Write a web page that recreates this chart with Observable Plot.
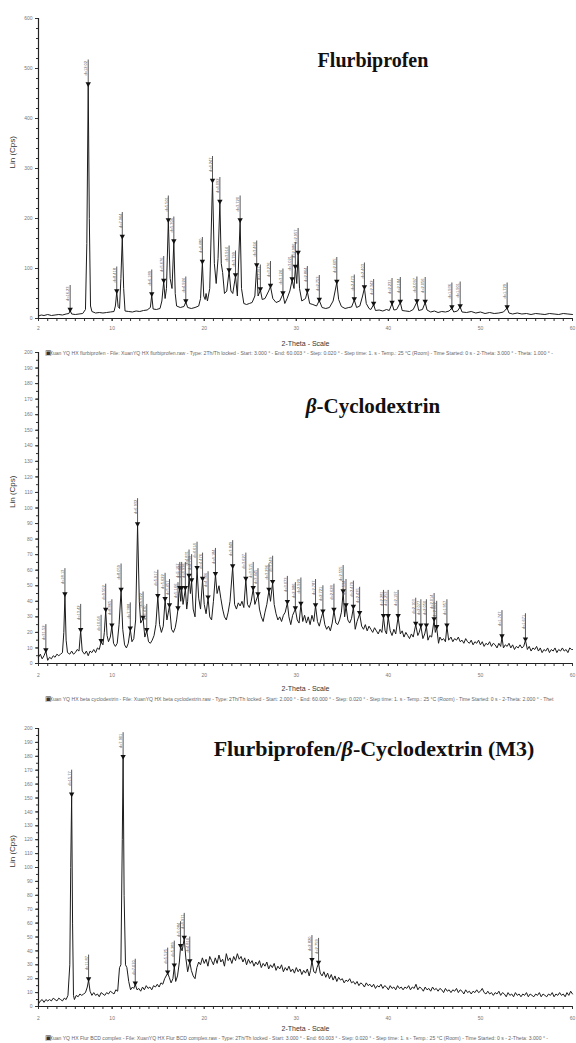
<!DOCTYPE html>
<html><head><meta charset="utf-8">
<script src="https://cdn.jsdelivr.net/npm/d3@7"></script>
<script src="https://cdn.jsdelivr.net/npm/@observablehq/plot@0.6"></script>
<style>
body{margin:0;background:#fff;}
#wrap{position:relative;width:576px;height:1043px;overflow:hidden;background:#fff;}
.panel{position:absolute;left:0;}
.title{position:absolute;font-family:"Liberation Serif","Times New Roman",serif;font-weight:bold;color:#111;white-space:nowrap;transform:translate(-50%,-50%);}
</style></head><body><div id="wrap"></div>
<script>
// ---- x axis ticks (2-Theta) ----
const xMajor = [2, 10, 20, 30, 40, 50, 60];
// ---- Panel 1: Flurbiprofen ----
const fluTrace = [[2,5],[2.3,7],[2.6,6],[3,8],[3.4,6],[3.8,7],[4.2,8],[4.6,7],[5.0,9],[5.3,10],[5.44,16],[5.6,9],[6.0,8],[6.4,9],[6.8,10],[7.1,18],[7.25,150],[7.4,467],[7.52,200],[7.65,25],[7.8,14],[8.2,11],[8.6,12],[9.0,11],[9.4,12],[9.8,13],[10.2,14],[10.35,25],[10.5,53],[10.65,24],[10.8,20],[10.95,80],[11.1,162],[11.25,60],[11.4,15],[11.8,14],[12.2,13],[12.6,15],[13.0,14],[13.4,16],[13.8,17],[14.15,22],[14.3,47],[14.45,19],[14.8,18],[15.2,20],[15.4,35],[15.6,74],[15.75,40],[15.9,60],[16.1,195],[16.3,80],[16.5,60],[16.7,153],[16.85,50],[17.0,25],[17.4,22],[17.8,24],[18.0,33],[18.2,22],[18.6,20],[19.0,22],[19.4,25],[19.6,40],[19.8,112],[19.95,45],[20.1,38],[20.2,50],[20.35,35],[20.6,60],[20.9,274],[21.1,110],[21.3,70],[21.5,120],[21.7,232],[21.85,110],[22.0,92],[22.2,50],[22.45,55],[22.7,95],[22.9,55],[23.1,50],[23.4,85],[23.6,45],[23.9,195],[24.05,60],[24.3,30],[24.6,28],[24.9,30],[25.2,32],[25.5,45],[25.7,105],[25.85,45],[26.1,57],[26.3,38],[26.6,40],[27.0,55],[27.2,64],[27.45,40],[27.8,32],[28.2,35],[28.55,49],[28.75,30],[29.0,40],[29.3,55],[29.55,77],[29.75,60],[29.9,102],[30.05,70],[30.2,130],[30.35,60],[30.6,35],[31.0,40],[31.2,54],[31.45,30],[31.8,28],[32.2,25],[32.5,36],[32.8,22],[33.2,20],[33.6,22],[34.0,35],[34.4,72],[34.6,38],[34.9,24],[35.3,20],[35.7,22],[36.0,23],[36.3,37],[36.55,22],[36.9,25],[37.2,45],[37.4,61],[37.6,30],[37.9,20],[38.1,18],[38.4,28],[38.6,16],[39.0,17],[39.4,15],[39.8,18],[40.1,16],[40.4,30],[40.6,17],[40.9,18],[41.3,32],[41.5,16],[41.9,15],[42.3,14],[42.7,18],[43.1,33],[43.3,16],[43.7,18],[44.0,32],[44.2,17],[44.6,13],[45.0,15],[45.4,12],[45.8,14],[46.2,13],[46.6,15],[46.9,21],[47.1,13],[47.5,15],[47.8,23],[48.0,13],[48.5,12],[49.0,14],[49.5,11],[50.0,13],[50.5,10],[51.0,12],[51.5,10],[52.0,11],[52.5,13],[52.9,21],[53.1,11],[53.5,9],[54.0,11],[54.5,9],[55.0,10],[55.5,8],[56.0,10],[56.5,9],[57.0,8],[57.5,10],[58.0,9],[58.5,8],[59.0,10],[59.5,9],[60.0,8]];
const fluPeaks = [[5.44,16,"d=16.23"],[7.4,467,"d=12.02"],[10.5,53,"d=8.418"],[11.1,162,"d=7.964"],[14.3,47,"d=6.189"],[15.6,74,"d=5.676"],[16.1,195,"d=5.501"],[16.7,153,"d=5.304"],[18.0,33,"d=4.924"],[19.8,112,"d=4.480"],[20.9,274,"d=4.247"],[21.7,232,"d=4.092"],[22.7,95,"d=3.914"],[23.4,85,"d=3.799"],[23.9,195,"d=3.720"],[25.7,105,"d=3.464"],[26.1,57,"d=3.411"],[27.2,64,"d=3.276"],[28.55,49,"d=3.124"],[29.55,77,"d=3.021"],[29.9,102,"d=2.986"],[30.2,130,"d=2.957"],[31.2,54,"d=2.864"],[32.5,36,"d=2.753"],[34.4,72,"d=2.605"],[36.3,37,"d=2.473"],[37.4,61,"d=2.403"],[38.4,28,"d=2.342"],[40.4,30,"d=2.231"],[41.3,32,"d=2.184"],[43.1,33,"d=2.097"],[44.0,32,"d=2.056"],[46.9,21,"d=1.936"],[47.8,23,"d=1.901"],[52.9,21,"d=1.729"]];
const fluYTicks = [0, 100, 200, 300, 400, 500, 600];
// ---- Panel 2: beta-Cyclodextrin ----
const bcdTrace = [[2.0,4],[2.2,6],[2.4,3],[2.6,5],[2.8,8],[3.0,2],[3.2,4],[3.4,3],[3.6,5],[3.8,4],[4.0,6],[4.2,5],[4.4,6],[4.6,7],[4.75,20],[4.87,44],[5.0,15],[5.15,7],[5.4,6],[5.6,8],[5.8,6],[6.0,7],[6.2,9],[6.4,8],[6.58,21],[6.75,8],[7.0,6],[7.2,8],[7.4,5],[7.6,8],[7.8,7],[8.0,9],[8.2,7],[8.4,10],[8.6,9],[8.8,14],[9.0,12],[9.15,20],[9.3,34],[9.45,18],[9.6,14],[9.8,17],[9.97,24],[10.15,13],[10.35,11],[10.55,13],[10.75,25],[10.97,47],[11.15,22],[11.35,12],[11.55,10],[11.75,13],[11.97,22],[12.15,14],[12.35,16],[12.55,28],[12.76,89],[12.95,40],[13.1,26],[13.36,29],[13.55,17],[13.76,21],[13.95,14],[14.15,13],[14.35,15],[14.55,18],[14.75,25],[14.96,43],[15.15,25],[15.35,20],[15.55,24],[15.75,41],[15.95,28],[16.23,37],[16.45,22],[16.65,20],[16.85,23],[17.0,28],[17.15,35],[17.25,45],[17.35,48],[17.45,40],[17.55,48],[17.7,38],[17.95,48],[18.1,35],[18.2,40],[18.35,56],[18.5,45],[18.63,53],[18.8,35],[19.0,30],[19.22,61],[19.4,42],[19.6,35],[19.82,54],[20.0,38],[20.2,32],[20.42,42],[20.6,30],[20.8,28],[21.0,40],[21.22,57],[21.4,45],[21.6,50],[21.8,42],[22.0,35],[22.2,30],[22.4,28],[22.6,33],[22.8,40],[23.09,62],[23.3,38],[23.5,35],[23.7,39],[23.9,37],[24.1,40],[24.3,36],[24.52,54],[24.7,38],[24.9,36],[25.1,40],[25.32,48],[25.5,38],[25.84,44],[26.0,35],[26.2,30],[26.4,27],[26.6,33],[26.8,38],[27.03,47],[27.2,40],[27.43,52],[27.6,38],[27.8,32],[28.0,28],[28.2,30],[28.4,27],[28.6,31],[28.8,33],[29.03,39],[29.2,30],[29.4,25],[29.6,31],[29.9,35],[30.1,28],[30.3,26],[30.5,38],[30.7,27],[30.9,31],[31.1,26],[31.3,30],[31.5,25],[31.7,31],[31.9,27],[32.09,37],[32.3,27],[32.5,24],[32.7,29],[32.89,33],[33.1,25],[33.3,22],[33.5,24],[33.7,21],[33.9,26],[34.09,34],[34.3,26],[34.5,25],[34.7,28],[34.9,33],[35.09,46],[35.25,30],[35.4,37],[35.6,28],[35.8,26],[36.0,29],[36.2,36],[36.4,22],[36.6,27],[36.88,32],[37.1,24],[37.3,22],[37.5,25],[37.7,21],[37.9,24],[38.1,22],[38.3,20],[38.5,23],[38.7,21],[38.9,19],[39.1,22],[39.3,20],[39.47,30],[39.65,21],[39.8,19],[39.98,30],[40.2,21],[40.4,18],[40.6,22],[40.8,19],[41.06,30],[41.3,19],[41.5,21],[41.7,17],[41.9,20],[42.1,18],[42.3,16],[42.5,19],[42.7,17],[42.97,25],[43.2,18],[43.35,20],[43.53,24],[43.75,16],[43.95,19],[44.13,24],[44.3,15],[44.5,18],[44.7,17],[44.97,28],[45.1,20],[45.25,23],[45.45,13],[45.6,17],[45.8,15],[46.0,16],[46.2,14],[46.36,24],[46.55,15],[46.8,17],[47.0,14],[47.2,16],[47.4,15],[47.6,17],[47.8,14],[48.0,15],[48.2,13],[48.4,16],[48.6,14],[48.8,13],[49.0,15],[49.2,12],[49.4,14],[49.6,13],[49.8,15],[50.0,12],[50.2,14],[50.4,11],[50.6,13],[50.8,12],[51.0,14],[51.2,11],[51.4,13],[51.6,12],[51.8,10],[52.0,13],[52.2,11],[52.34,17],[52.5,10],[52.7,12],[52.9,11],[53.1,13],[53.3,10],[53.5,12],[53.7,9],[53.9,11],[54.1,10],[54.3,12],[54.5,10],[54.7,11],[54.89,15],[55.1,9],[55.3,11],[55.5,8],[55.7,10],[55.9,9],[56.1,11],[56.3,8],[56.5,10],[56.7,7],[56.9,9],[57.1,8],[57.3,10],[57.5,7],[57.7,9],[57.9,8],[58.1,10],[58.3,7],[58.5,9],[58.7,8],[58.9,10],[59.1,8],[59.3,9],[59.5,7],[59.7,10],[59.9,9],[60.0,9]];
const bcdPeaks = [[2.8,8,"d=31.52"],[4.87,44,"d=18.13"],[6.58,21,"d=13.42"],[8.8,14,"d=10.04"],[9.3,34,"d=9.502"],[9.97,24,"d=8.865"],[10.97,47,"d=8.059"],[11.97,22,"d=7.388"],[12.76,89,"d=6.932"],[13.36,29,"d=6.622"],[13.76,21,"d=6.430"],[14.96,43,"d=5.917"],[15.75,41,"d=5.622"],[16.23,37,"d=5.457"],[17.15,35,"d=5.166"],[17.35,48,"d=5.107"],[17.55,48,"d=5.049"],[17.95,48,"d=4.938"],[18.35,56,"d=4.831"],[18.63,53,"d=4.759"],[19.22,61,"d=4.614"],[19.82,54,"d=4.476"],[20.42,42,"d=4.346"],[21.22,57,"d=4.184"],[23.09,62,"d=3.849"],[24.52,54,"d=3.627"],[25.32,48,"d=3.515"],[25.84,44,"d=3.445"],[27.03,47,"d=3.296"],[27.43,52,"d=3.249"],[29.03,39,"d=3.073"],[29.9,35,"d=2.986"],[30.5,38,"d=2.929"],[32.09,37,"d=2.787"],[32.89,33,"d=2.721"],[34.09,34,"d=2.628"],[35.09,46,"d=2.555"],[35.4,37,"d=2.534"],[36.2,36,"d=2.479"],[36.88,32,"d=2.435"],[39.47,30,"d=2.281"],[39.98,30,"d=2.253"],[41.06,30,"d=2.197"],[42.97,25,"d=2.103"],[43.53,24,"d=2.077"],[44.13,24,"d=2.050"],[44.97,28,"d=2.014"],[45.25,23,"d=2.002"],[46.36,24,"d=1.957"],[52.34,17,"d=1.747"],[54.89,15,"d=1.671"]];
const tenTicks = [0,10,20,30,40,50,60,70,80,90,100,110,120,130,140,150,160,170,180,190,200];
// ---- Panel 3: Flurbiprofen/beta-CD complex (M3) ----
const m3Trace = [[2.0,2],[2.2,4],[2.4,5],[2.6,3],[2.8,5],[3.0,4],[3.2,5],[3.4,4],[3.6,6],[3.8,5],[4.0,4],[4.2,6],[4.4,5],[4.6,4],[4.8,6],[5.0,5],[5.2,8],[5.4,30],[5.5,100],[5.6,152],[5.7,60],[5.8,8],[5.9,5],[6.1,8],[6.3,7],[6.5,9],[6.7,8],[6.9,9],[7.1,10],[7.3,14],[7.44,19],[7.6,11],[7.8,8],[8.0,10],[8.2,8],[8.4,9],[8.6,7],[8.8,10],[9.0,9],[9.2,8],[9.4,10],[9.6,9],[9.8,11],[10.0,10],[10.2,9],[10.4,12],[10.6,11],[10.8,28],[10.95,30],[11.1,120],[11.19,179],[11.3,80],[11.45,30],[11.6,28],[11.8,18],[12.0,12],[12.2,14],[12.35,13],[12.51,16],[12.7,12],[12.9,13],[13.1,11],[13.3,14],[13.5,12],[13.7,15],[13.9,13],[14.1,14],[14.3,12],[14.5,15],[14.7,14],[14.9,16],[15.1,14],[15.3,17],[15.5,16],[15.7,20],[16.03,24],[16.2,21],[16.4,17],[16.6,20],[16.75,29],[16.9,18],[17.1,22],[17.3,32],[17.43,43],[17.6,40],[17.83,49],[18.0,35],[18.2,25],[18.43,32],[18.6,26],[18.8,22],[19.0,20],[19.2,28],[19.4,32],[19.6,30],[19.8,35],[20.0,31],[20.2,34],[20.4,29],[20.6,36],[20.8,33],[21.0,30],[21.2,35],[21.4,31],[21.6,37],[21.8,32],[22.0,34],[22.2,29],[22.4,38],[22.6,33],[22.8,35],[23.0,31],[23.2,36],[23.4,33],[23.6,38],[23.8,34],[24.0,36],[24.2,32],[24.4,35],[24.6,30],[24.8,34],[25.0,31],[25.2,33],[25.4,29],[25.6,32],[25.8,30],[26.0,33],[26.2,28],[26.4,31],[26.6,29],[26.8,32],[27.0,27],[27.2,30],[27.4,28],[27.6,31],[27.8,26],[28.0,29],[28.2,27],[28.4,30],[28.6,25],[28.8,28],[29.0,26],[29.2,29],[29.4,25],[29.6,27],[29.8,24],[30.0,28],[30.2,25],[30.4,27],[30.6,23],[30.8,26],[31.0,24],[31.2,27],[31.4,22],[31.55,26],[31.7,33],[31.9,25],[32.1,24],[32.25,28],[32.42,31],[32.6,24],[32.8,22],[33.0,25],[33.2,21],[33.4,24],[33.6,20],[33.8,23],[34.0,19],[34.2,22],[34.4,18],[34.6,21],[34.8,19],[35.0,20],[35.2,17],[35.4,19],[35.6,18],[35.8,20],[36.0,17],[36.2,18],[36.4,16],[36.6,18],[36.8,15],[37.0,17],[37.2,16],[37.4,14],[37.6,17],[37.8,15],[38.0,16],[38.2,14],[38.4,16],[38.6,13],[38.8,15],[39.0,14],[39.2,16],[39.4,13],[39.6,15],[39.8,14],[40.0,12],[40.2,15],[40.4,13],[40.6,14],[40.8,12],[41.0,15],[41.2,13],[41.4,14],[41.6,12],[41.8,14],[42.0,13],[42.2,15],[42.4,12],[42.6,14],[42.8,13],[43.0,16],[43.2,12],[43.4,14],[43.6,13],[43.8,11],[44.0,14],[44.2,12],[44.4,13],[44.6,11],[44.8,14],[45.0,12],[45.2,13],[45.4,11],[45.6,13],[45.8,12],[46.0,10],[46.2,13],[46.4,11],[46.6,12],[46.8,10],[47.0,12],[47.2,11],[47.4,13],[47.6,10],[47.8,12],[48.0,11],[48.2,9],[48.4,12],[48.6,10],[48.8,11],[49.0,9],[49.2,11],[49.4,10],[49.6,12],[49.8,10],[50.0,11],[50.2,13],[50.4,10],[50.6,9],[50.8,11],[51.0,9],[51.2,10],[51.4,8],[51.6,10],[51.8,9],[52.0,11],[52.2,8],[52.4,10],[52.6,9],[52.8,7],[53.0,10],[53.2,8],[53.4,9],[53.6,7],[53.8,10],[54.0,8],[54.2,9],[54.4,7],[54.6,9],[54.8,8],[55.0,10],[55.2,7],[55.4,9],[55.6,8],[55.8,7],[56.0,9],[56.2,8],[56.4,10],[56.6,7],[56.8,9],[57.0,8],[57.2,7],[57.4,9],[57.6,8],[57.8,10],[58.0,7],[58.2,9],[58.4,8],[58.6,10],[58.8,8],[59.0,9],[59.2,7],[59.4,10],[59.6,8],[59.8,11],[60.0,9]];
const m3Peaks = [[5.6,152,"d=15.77"],[7.44,19,"d=11.87"],[11.19,179,"d=7.901"],[12.51,16,"d=7.070"],[16.03,24,"d=5.525"],[16.75,29,"d=5.289"],[17.43,43,"d=5.084"],[17.83,49,"d=4.971"],[18.43,32,"d=4.810"],[31.7,33,"d=2.820"],[32.42,31,"d=2.759"]];
// ---- texts ----
const yLabel = "Lin (Cps)";
const xLabel = "2-Theta - Scale";
const infoTexts = [
  "Xuan YQ HX flurbiprofen - File: XuanYQ HX flurbiprofen.raw - Type: 2Th/Th locked - Start: 3.000 ° - End: 60.003 ° - Step: 0.020 ° - Step time: 1. s - Temp.: 25 °C (Room) - Time Started: 0 s - 2-Theta: 3.000 ° - Theta: 1.000 ° -",
  "Xuan YQ HX beta cyclodextrin - File: XuanYQ HX beta cyclodextrin.raw - Type: 2Th/Th locked - Start: 2.000 ° - End: 60.000 ° - Step: 0.020 ° - Step time: 1. s - Temp.: 25 °C (Room) - Time Started: 0 s - 2-Theta: 2.000 ° - Thet",
  "Xuan YQ HX Flur BCD complex - File: XuanYQ HX Flur BCD complex.raw - Type: 2Th/Th locked - Start: 3.000 ° - End: 60.003 ° - Step: 0.020 ° - Step time: 1. s - Temp.: 25 °C (Room) - Time Started: 0 s - 2-Theta: 3.000 ° -"
];

const wrap = document.getElementById("wrap");
const xMinor = d3.range(2, 61, 1);

function panel(o) {
  const rows = o.trace.map(([x, y]) => ({x, y}));
  const pk = o.peaks.map(([x, y, d]) => ({x, y, d}));
  const chart = Plot.plot({
    width: 576, height: o.height,
    marginTop: o.mt, marginBottom: o.mb, marginLeft: 38, marginRight: 4,
    style: {background: "transparent", fontFamily: "Liberation Sans, Arial, sans-serif", overflow: "visible"},
    x: {domain: [2, 60], label: null},
    y: {domain: [0, o.yMax], label: null},
    marks: [
      Plot.axisX(xMinor, {tickSize: 3, tickFormat: () => "", stroke: "#333", label: null}),
      Plot.axisX(xMajor, {tickSize: 3, tickPadding: o.xPad, fontSize: 5, fill: "#777", stroke: "#333", label: null}),
      Plot.axisY(o.yMinor, {tickSize: 2, tickFormat: () => "", stroke: "#333", label: null}),
      Plot.axisY(o.yMajor, {tickSize: 3, tickPadding: 3, fontSize: 5, fill: "#777", stroke: "#333", label: null}),
      Plot.ruleX([2], {stroke: "#222", strokeWidth: 1.2}),
      Plot.ruleY([0], {stroke: "#222", strokeWidth: 1}),
      Plot.line(rows, {x: "x", y: "y", stroke: "#1c1c1c", strokeWidth: 1}),
      Plot.ruleX(pk, {x: "x", y1: "y", y2: d => d.y + o.lift, stroke: "#111", strokeWidth: 0.7}),
      Plot.dot(pk, {x: "x", y: "y", symbol: "triangle", r: 2, fill: "#111", rotate: 180, dy: -1.2}),
      Plot.text(pk, {x: "x", y: d => d.y + o.lift, text: "d", rotate: -90, textAnchor: "end", fontSize: 4, dx: -2, dy: 1, fill: "#555"}),
      Plot.text([yLabel], {frameAnchor: "left", dx: -26, rotate: -90, fontSize: 8, fill: "#333"}),
      Plot.text([xLabel], {frameAnchor: "bottom", dy: o.xlDy, fontSize: 7, fill: "#333"}),
      Plot.text(["▣"], {frameAnchor: "bottom-left", dx: 6, dy: o.infoDy, fontSize: 7, fill: "#333"}),
      Plot.text([o.info], {frameAnchor: "bottom-left", dx: 11, dy: o.infoDy, fontSize: 5.1, fill: "#666", textAnchor: "start"})
    ]
  });
  const div = document.createElement("div");
  div.className = "panel";
  div.style.top = o.top + "px";
  div.appendChild(chart);
  wrap.appendChild(div);
  const t = document.createElement("div");
  t.className = "title";
  t.style.left = o.tx + "px";
  t.style.top = o.ty + "px";
  t.style.fontSize = o.tsize + "px";
  t.innerHTML = o.title;
  wrap.appendChild(t);
}

panel({trace: fluTrace, peaks: fluPeaks, yMax: 600, yMajor: fluYTicks, yMinor: d3.range(0, 601, 20),
  lift: 50, top: 0, height: 362, mt: 18, mb: 44, xPad: 5, xlDy: 27, infoDy: 36,
  info: infoTexts[0], title: "Flurbiprofen", tx: 373, ty: 60, tsize: 20});
panel({trace: bcdTrace, peaks: bcdPeaks, yMax: 200, yMajor: tenTicks, yMinor: d3.range(0, 201, 5),
  lift: 17, top: 340, height: 365, mt: 12, mb: 42, xPad: 7, xlDy: 27, infoDy: 37,
  info: infoTexts[1], title: "<i>β</i>-Cyclodextrin", tx: 373, ty: 406, tsize: 21});
panel({trace: m3Trace, peaks: m3Peaks, yMax: 200, yMajor: tenTicks, yMinor: d3.range(0, 201, 5),
  lift: 18, top: 700, height: 343, mt: 28, mb: 37, xPad: 7, xlDy: 24, infoDy: 33,
  info: infoTexts[2], title: "Flurbiprofen/<i>β</i>-Cyclodextrin (M3)", tx: 374, ty: 749, tsize: 22});
</script></body></html>
